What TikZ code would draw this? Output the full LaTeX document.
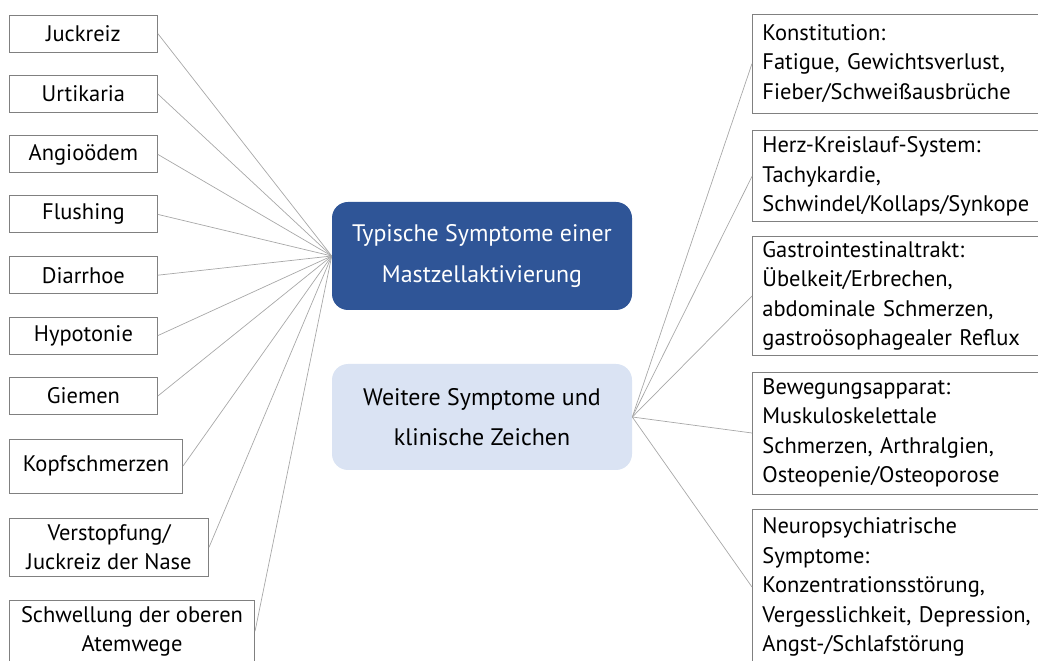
\documentclass[tikz,border=0pt]{standalone}
\usepackage{fontspec}
\setmainfont{PT Sans}
\usepackage{tikz}
\usetikzlibrary{positioning}
\definecolor{HeadBlue}{HTML}{2F5597}
\definecolor{PaleBlue}{HTML}{DAE3F3}
\definecolor{FrameGray}{HTML}{808080}
\definecolor{LinkGray}{HTML}{A8A8A8}

\begin{document}
\begin{tikzpicture}[
sym/.style={draw=FrameGray,line width=0.6pt,anchor=west,minimum width=37mm,minimum height=9.25mm,align=center,inner xsep=2.5mm,font=\fontsize{16}{21}\selectfont},
grp/.style={draw=FrameGray,line width=0.6pt,anchor=west,text width=68mm,inner xsep=2.5mm,align=left,font=\fontsize{16}{21}\selectfont},
head/.style={rounded corners=4mm,minimum width=75mm,align=center,font=\fontsize{17}{28.5}\selectfont},
link/.style={draw=LinkGray,line width=0.5pt}
]
\useasboundingbox (0,0) rectangle (25.95,-16.525);
% centre
\node[head,fill=HeadBlue,text=white,minimum height=27mm] (typ) at (12.05,-6.4) {Typische Symptome einer\\Mastzellaktivierung};
\node[head,fill=PaleBlue,minimum height=26.5mm] (more) at (12.05,-10.425) {Weitere Symptome und\\klinische Zeichen};
% left column
\node[sym] (juck) at (0.225,-0.84) {Juckreiz};
\node[sym] (urti) at (0.225,-2.35) {Urtikaria};
\node[sym] (angio) at (0.225,-3.86) {Angioödem};
\node[sym] (flush) at (0.225,-5.36) {Flushing};
\node[sym] (diarr) at (0.225,-6.88) {Diarrhoe};
\node[sym] (hypo) at (0.225,-8.39) {Hypotonie};
\node[sym] (giem) at (0.225,-9.9) {Giemen};
\node[sym,minimum width=43.3mm,minimum height=13.5mm] (kopf) at (0.225,-11.65) {Kopfschmerzen};
\node[sym,minimum width=49.8mm,minimum height=14.5mm] (nase) at (0.225,-13.68) {Verstopfung/\\Juckreiz der Nase};
\node[sym,minimum width=61.3mm,minimum height=15.5mm] (atem) at (0.225,-15.78) {Schwellung der oberen\\Atemwege};
% right column
\node[grp,minimum height=24.75mm] (konst) at (18.8,-1.59) {Konstitution:\\Fatigue, Gewichtsverlust,\\Fieber/Schweißausbrüche};
\node[grp,minimum height=22.75mm] (herz) at (18.8,-4.41) {Herz-Kreislauf-System:\\Tachykardie,\\Schwindel/Kollaps/Synkope};
\node[grp,minimum height=28.5mm] (gastro) at (18.8,-7.4) {Gastrointestinaltrakt:\\Übelkeit/Erbrechen,\\abdominale Schmerzen,\\gastroösophagealer Reflux};
\node[grp,minimum height=30.5mm] (beweg) at (18.8,-10.825) {Bewegungsapparat:\\Muskuloskelettale\\Schmerzen, Arthralgien,\\Osteopenie/Osteoporose};
\node[grp,minimum height=39mm] (neuro) at (18.8,-14.675) {Neuropsychiatrische\\Symptome:\\Konzentrationsstörung,\\Vergesslichkeit, \mbox{Depression,}\\Angst-/Schlafstörung};
% connectors
\draw[link] (juck.east) -- (typ.west);
\draw[link] (urti.east) -- (typ.west);
\draw[link] (angio.east) -- (typ.west);
\draw[link] (flush.east) -- (typ.west);
\draw[link] (diarr.east) -- (typ.west);
\draw[link] (hypo.east) -- (typ.west);
\draw[link] (giem.east) -- (typ.west);
\draw[link] (kopf.east) -- (typ.west);
\draw[link] (nase.east) -- (typ.west);
\draw[link] (atem.east) -- (typ.west);
\draw[link] (more.east) -- (konst.west);
\draw[link] (more.east) -- (herz.west);
\draw[link] (more.east) -- (gastro.west);
\draw[link] (more.east) -- (beweg.west);
\draw[link] (more.east) -- (neuro.west);
\end{tikzpicture}
\end{document}
